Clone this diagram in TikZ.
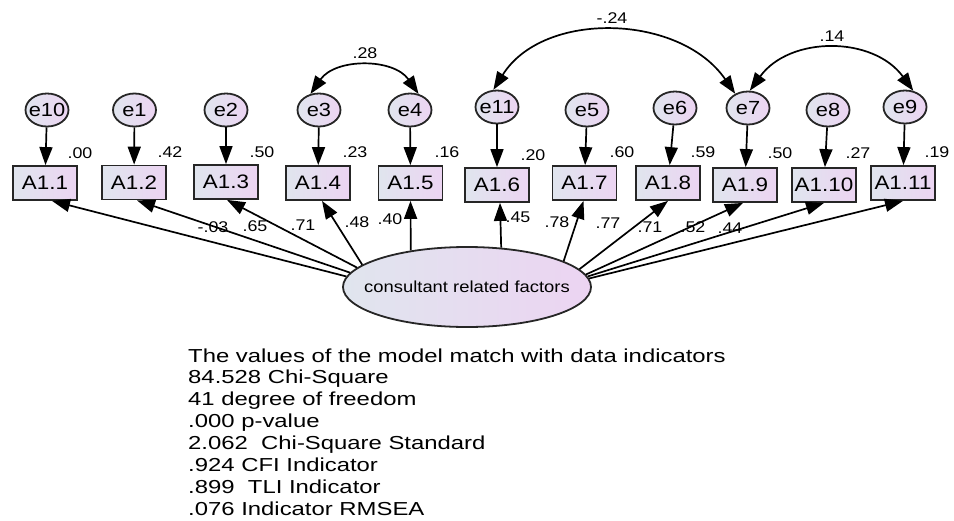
\documentclass[tikz,border=0pt]{standalone}
\usepackage{fontspec}
\setmainfont{Liberation Sans}
\newfontfamily\statfont[FakeStretch=1.27]{Liberation Sans}
\newfontfamily\diagfont[FakeStretch=1.15]{Liberation Sans}
\usetikzlibrary{arrows.meta,shapes.geometric}
\definecolor{cL}{RGB}{224,229,238}
\definecolor{cR}{RGB}{236,212,242}
\tikzset{
  obs/.style={draw=black!85, line width=1.8pt, rectangle, minimum width=64pt, minimum height=34pt, inner sep=0pt, left color=cL, right color=cR, font=\diagfont\fontsize{19.5}{20}\selectfont},
  err/.style={draw=black!85, line width=1.8pt, ellipse, minimum width=43pt, minimum height=33pt, inner sep=0pt, left color=cL, right color=cR, label={[font=\diagfont\fontsize{19}{20}\selectfont, inner sep=0pt]center:#1}},
  lat/.style={draw=black!85, line width=1.8pt, ellipse, minimum width=248pt, minimum height=80pt, inner sep=0pt, left color=cL, right color=cR, label={[font=\diagfont\fontsize{16}{18}\selectfont, inner sep=0pt]center:#1}},
  ld/.style={-{Triangle[length=18pt,width=13pt]}, line width=1.7pt},
  cov/.style={{Triangle[length=18pt,width=13pt]}-{Triangle[length=18pt,width=13pt]}, line width=1.7pt},
  num/.style={inner sep=0pt, font=\diagfont\fontsize{15.5}{16}\selectfont},
  stat/.style={inner sep=0pt, anchor=base west, font=\statfont\fontsize{18.8}{20}\selectfont},
}
\begin{document}
\begin{tikzpicture}[x=1pt,y=-1pt]
\useasboundingbox (0,0) rectangle (954,520);
% observed boxes
\node[obs] (A1) at (45,183) {A1.1};
\node[obs] (A2) at (134,182.5) {A1.2};
\node[obs] (A3) at (226,182) {A1.3};
\node[obs] (A4) at (318,183) {A1.4};
\node[obs] (A5) at (410.5,183) {A1.5};
\node[obs] (A6) at (497,185) {A1.6};
\node[obs] (A7) at (584.5,183) {A1.7};
\node[obs] (A8) at (668,183) {A1.8};
\node[obs] (A9) at (745,185) {A1.9};
\node[obs] (A10) at (824,185) {A1.10};
\node[obs] (A11) at (903,183) {A1.11};
% error terms
\node[err=e10] (e10) at (47,110) {};
\node[err=e1] (e1) at (134.5,110) {};
\node[err=e2] (e2) at (226,110) {};
\node[err=e3] (e3) at (319,110) {};
\node[err=e4] (e4) at (410,110) {};
\node[err=e11] (e11) at (497,107) {};
\node[err=e5] (e5) at (587,110) {};
\node[err=e6] (e6) at (675,108) {};
\node[err=e7] (e7) at (748,108) {};
\node[err=e8] (e8) at (828,110) {};
\node[err=e9] (e9) at (905,107) {};
% latent
\node[lat={consultant related factors}] (F) at (467,287) {};
% error arrows
\foreach \e/\a in {e10/A1,e1/A2,e2/A3,e3/A4,e4/A5,e11/A6,e5/A7,e6/A8,e7/A9,e8/A10,e9/A11}
  \draw[ld] (\e) -- (\a);
% loadings
\draw[ld] (F.175.5) -- ([xshift=7pt]A1.south);
\draw[ld] (F.173.5) -- ([xshift=3pt]A2.south);
\draw[ld] (F.170) -- ([xshift=1pt]A3.south);
\draw[ld] (F.168) -- ([xshift=4pt]A4.south);
\draw[ld] (F.147) -- (A5.south);
\draw[ld] (F.49) -- ([xshift=3pt]A6.south);
\draw[ld] (F.15) -- ([xshift=-1pt]A7.south);
\draw[ld] (F.9) -- (A8.south);
\draw[ld] (F.6) -- ([xshift=-2pt]A9.south);
\draw[ld] (F.5) -- (A10.south);
\draw[ld] (F.4) -- (A11.south);
% covariances
\draw[cov] (e3.118) .. controls +(25,-36) and +(-25,-36) .. (e4.62);
\draw[cov] (e11.102) .. controls +(50,-80) and +(-55,-80) .. (e7.132);
\draw[cov] (e7.84) .. controls +(40,-55) and +(-40,-55) .. (e9.63);
\node[num] (c1) at (365,53) {.28};
\node[num] (c2) at (612,18) {-.24};
\node[num] (c3) at (832,36) {.14};
% R squared
\node[num] (r1) at (80,153) {.00};
\node[num] (r2) at (170,152) {.42};
\node[num] (r3) at (262,152) {.50};
\node[num] (r4) at (355,152) {.23};
\node[num] (r5) at (447,152) {.16};
\node[num] (r6) at (533,155) {.20};
\node[num] (r7) at (622,152) {.60};
\node[num] (r8) at (703,152) {.59};
\node[num] (r9) at (780,153) {.50};
\node[num] (r10) at (858,153) {.27};
\node[num] (r11) at (937,152) {.19};
% loading labels
\node[num] (l1) at (213,227) {-.03};
\node[num] (l2) at (255,226) {.65};
\node[num] (l3) at (303,225) {.71};
\node[num] (l4) at (357,222) {.48};
\node[num] (l5) at (390,219) {.40};
\node[num] (l6) at (518,217) {.45};
\node[num] (l7) at (557,222) {.78};
\node[num] (l8) at (608,223) {.77};
\node[num] (l9) at (650,227) {.71};
\node[num] (l10) at (693,227) {.52};
\node[num] (l11) at (730,228) {.44};
% fit statistics
\node[stat] (t1) at (188,362) {The values of the model match with data indicators};
\node[stat] (t2) at (188,383.9) {84.528 Chi-Square};
\node[stat] (t3) at (188,405.8) {41 degree of freedom};
\node[stat] (t4) at (188,427.7) {.000 p-value};
\node[stat] (t5) at (188,449.6) {2.062\ \ Chi-Square Standard};
\node[stat] (t6) at (188,471.5) {.924 CFI Indicator};
\node[stat] (t7) at (188,493.4) {.899\ \ TLI Indicator};
\node[stat] (t8) at (188,515.3) {.076 Indicator RMSEA};
\end{tikzpicture}
\end{document}
